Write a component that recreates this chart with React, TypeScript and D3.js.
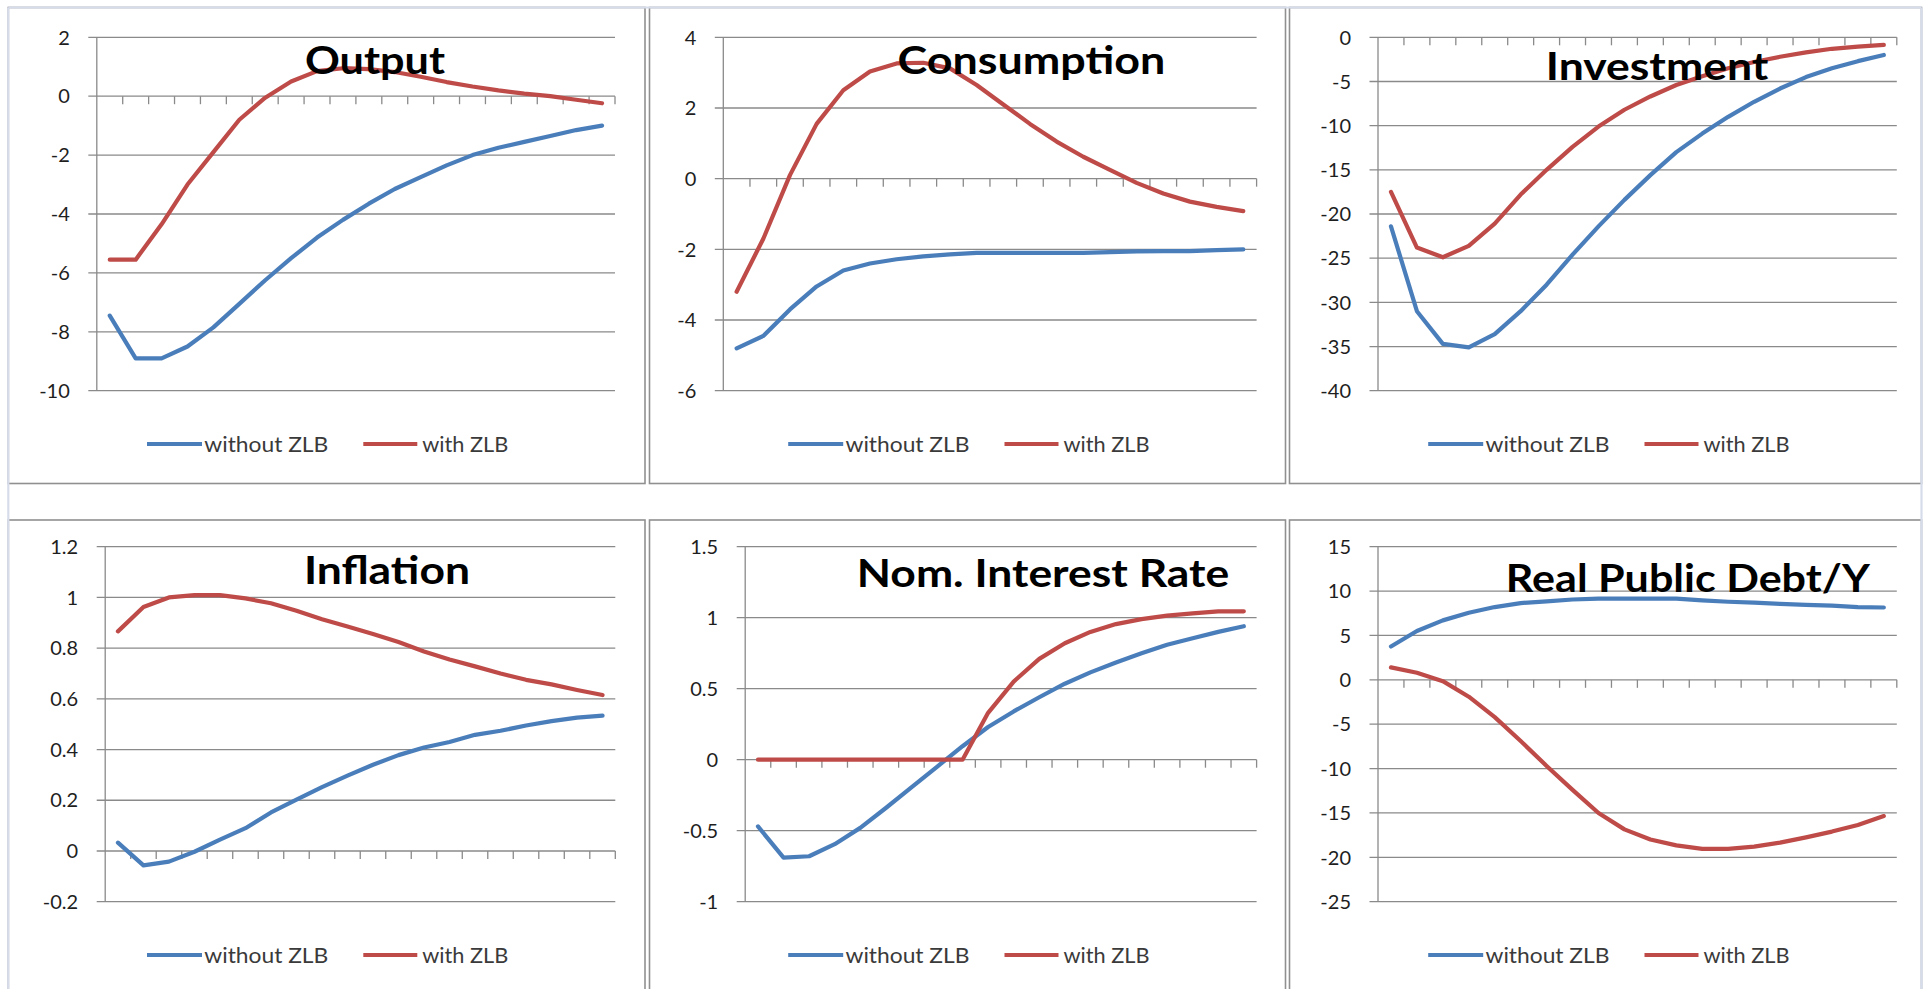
import React from 'react';
import * as d3 from 'd3';

// horizon (quarters) shared by every panel
const periods = [1, 2, 3, 4, 5, 6, 7, 8, 9, 10, 11, 12, 13, 14, 15, 16, 17, 18, 19, 20];

const seriesNames = ['without ZLB', 'with ZLB'];
const titles = ['Output', 'Consumption', 'Investment', 'Inflation', 'Nom. Interest Rate', 'Real Public Debt/Y'];

// Output
const outputNoZlb = [-7.45, -8.9, -8.9, -8.5, -7.85, -7.05, -6.25, -5.5, -4.8, -4.2, -3.65, -3.15, -2.75, -2.35, -2.0, -1.75, -1.55, -1.35, -1.15, -1.0];
const outputZlb = [-5.55, -5.55, -4.35, -3.0, -1.9, -0.8, -0.05, 0.5, 0.85, 0.95, 0.92, 0.82, 0.66, 0.48, 0.33, 0.2, 0.09, 0.0, -0.12, -0.24];
const outputTicks = [2, 0, -2, -4, -6, -8, -10];

// Consumption
const consNoZlb = [-4.8, -4.45, -3.7, -3.05, -2.6, -2.4, -2.28, -2.2, -2.14, -2.1, -2.1, -2.1, -2.1, -2.1, -2.08, -2.06, -2.05, -2.05, -2.02, -2.0];
const consZlb = [-3.2, -1.7, 0.1, 1.55, 2.5, 3.03, 3.26, 3.28, 3.12, 2.65, 2.1, 1.55, 1.05, 0.62, 0.25, -0.12, -0.42, -0.65, -0.8, -0.92];
const consTicks = [4, 2, 0, -2, -4, -6];

// Investment
const invNoZlb = [-21.4, -31.0, -34.7, -35.1, -33.6, -31.0, -28.0, -24.6, -21.4, -18.4, -15.6, -13.0, -10.9, -9.0, -7.3, -5.8, -4.5, -3.5, -2.7, -2.0];
const invZlb = [-17.5, -23.8, -24.9, -23.6, -21.1, -17.8, -15.0, -12.4, -10.1, -8.2, -6.7, -5.4, -4.4, -3.5, -2.8, -2.2, -1.7, -1.3, -1.05, -0.85];
const invTicks = [0, -5, -10, -15, -20, -25, -30, -35, -40];

// Inflation
const inflNoZlb = [0.033, -0.057, -0.042, -0.003, 0.045, 0.09, 0.152, 0.203, 0.252, 0.297, 0.34, 0.378, 0.408, 0.43, 0.458, 0.474, 0.495, 0.512, 0.526, 0.534];
const inflZlb = [0.866, 0.962, 1.0, 1.009, 1.009, 0.996, 0.977, 0.947, 0.914, 0.885, 0.856, 0.824, 0.787, 0.755, 0.728, 0.7, 0.675, 0.657, 0.635, 0.615];
const inflTicks = [1.2, 1, 0.8, 0.6, 0.4, 0.2, 0, -0.2];

// Nominal interest rate
const rateNoZlb = [-0.47, -0.69, -0.68, -0.595, -0.48, -0.34, -0.195, -0.05, 0.095, 0.23, 0.34, 0.44, 0.535, 0.615, 0.685, 0.75, 0.81, 0.855, 0.9, 0.94];
const rateZlb = [0, 0, 0, 0, 0, 0, 0, 0, 0, 0.33, 0.55, 0.71, 0.82, 0.9, 0.955, 0.99, 1.015, 1.03, 1.045, 1.045];
const rateTicks = [1.5, 1, 0.5, 0, -0.5, -1];

// Real public debt / Y
const debtNoZlb = [3.75, 5.5, 6.7, 7.55, 8.2, 8.65, 8.85, 9.05, 9.15, 9.15, 9.15, 9.15, 8.95, 8.8, 8.7, 8.55, 8.45, 8.35, 8.2, 8.15];
const debtZlb = [1.4, 0.8, -0.15, -1.9, -4.2, -6.9, -9.7, -12.4, -15.0, -16.85, -18.0, -18.65, -19.05, -19.05, -18.8, -18.35, -17.75, -17.1, -16.35, -15.35];
const debtTicks = [15, 10, 5, 0, -5, -10, -15, -20, -25];

// ---- layout ----
const W = 1926;
const H = 989;
const colLeft = [8.3, 649.5, 1289.5];
const colRight = [645, 1285.5, 1921.5];
const rowTop = [7.5, 520];
const rowBottom = [483.5, 1010];
const plotTop = [37.3, 546.7];
const plotBottom = [390.7, 901.7];
const legendY = [444, 955];

const BLUE = '#4a7ebb';
const RED = '#be4b48';
const GRID = '#8a8a8a';
const BORDER = '#909090';
const FRAME = '#d6dcea';
const FONT = 'Lato, "Open Sans", sans-serif';

interface PanelSpec {
  title: string;
  noZlb: number[];
  zlb: number[];
  ticks: number[];
  col: number;
  row: number;
  axisX: number;
  rightX: number;
  titleX: number;
  titleY: number;
  titleW: number;
}

const panels: PanelSpec[] = [
  { title: titles[0], noZlb: outputNoZlb, zlb: outputZlb, ticks: outputTicks, col: 0, row: 0, axisX: 96.8, rightX: 615, titleX: 305, titleY: 73.5, titleW: 140 },
  { title: titles[1], noZlb: consNoZlb, zlb: consZlb, ticks: consTicks, col: 1, row: 0, axisX: 723.3, rightX: 1256.6, titleX: 897.6, titleY: 74, titleW: 267.7 },
  { title: titles[2], noZlb: invNoZlb, zlb: invZlb, ticks: invTicks, col: 2, row: 0, axisX: 1378, rightX: 1896.8, titleX: 1545.8, titleY: 80, titleW: 222.5 },
  { title: titles[3], noZlb: inflNoZlb, zlb: inflZlb, ticks: inflTicks, col: 0, row: 1, axisX: 105.2, rightX: 615.3, titleX: 303.9, titleY: 584, titleW: 166.2 },
  { title: titles[4], noZlb: rateNoZlb, zlb: rateZlb, ticks: rateTicks, col: 1, row: 1, axisX: 745.2, rightX: 1256.6, titleX: 856.8, titleY: 587.3, titleW: 372.4 },
  { title: titles[5], noZlb: debtNoZlb, zlb: debtZlb, ticks: debtTicks, col: 2, row: 1, axisX: 1378, rightX: 1896.8, titleX: 1505.8, titleY: 591.7, titleW: 364.2 },
];

const fmt = (v: number) => String(+v.toFixed(2));

const Panel: React.FC<{ p: PanelSpec }> = ({ p }) => {
  const x = d3.scaleBand<number>().domain(periods).range([p.axisX, p.rightX]).paddingInner(0).paddingOuter(0);
  const bw = x.bandwidth();
  const y = d3
    .scaleLinear()
    .domain([d3.min(p.ticks) as number, d3.max(p.ticks) as number])
    .range([plotBottom[p.row], plotTop[p.row]]);
  const line = d3
    .line<number>()
    .x((_, i) => (x(periods[i]) as number) + bw / 2)
    .y((d) => y(d));
  const y0 = y(0);
  const left = colLeft[p.col];
  const ly = legendY[p.row];

  return (
    <g>
      {/* gridlines + y-axis tick marks */}
      {p.ticks.map((t) => (
        <line key={'g' + t} x1={p.axisX - 8.5} x2={p.rightX} y1={y(t)} y2={y(t)} stroke={GRID} strokeWidth={1.3} />
      ))}
      <line x1={p.axisX} x2={p.axisX} y1={plotTop[p.row]} y2={plotBottom[p.row]} stroke={GRID} strokeWidth={1.3} />
      {/* category ticks on the zero line */}
      {periods.map((d) => {
        const tx = (x(d) as number) + bw;
        return <line key={'t' + d} x1={tx} x2={tx} y1={y0} y2={y0 + 8} stroke={GRID} strokeWidth={1.3} />;
      })}
      {p.ticks.map((t) => (
        <text
          key={'l' + t}
          x={p.axisX - 27}
          y={y(t)}
          dy="0.36em"
          textAnchor="end"
          fontFamily={FONT}
          fontSize={20}
          fill="#1e1e1e"
        >
          {fmt(t)}
        </text>
      ))}
      <path d={line(p.noZlb) || ''} fill="none" stroke={BLUE} strokeWidth={4.2} strokeLinejoin="round" strokeLinecap="round" />
      <path d={line(p.zlb) || ''} fill="none" stroke={RED} strokeWidth={4.2} strokeLinejoin="round" strokeLinecap="round" />
      <text
        x={p.titleX}
        y={p.titleY}
        fontFamily={FONT}
        fontWeight={700}
        fontSize={39}
        fill="#000"
        textLength={p.titleW}
        lengthAdjust="spacingAndGlyphs"
      >
        {p.title}
      </text>
      {/* legend */}
      <line x1={left + 138.7} x2={left + 193.7} y1={ly} y2={ly} stroke={BLUE} strokeWidth={4.2} />
      <text x={left + 196} y={ly} dy="0.36em" fontFamily={FONT} fontSize={21} fill="#3a3a3a" textLength={124} lengthAdjust="spacingAndGlyphs">
        {seriesNames[0]}
      </text>
      <line x1={left + 355} x2={left + 409} y1={ly} y2={ly} stroke={RED} strokeWidth={4.2} />
      <text x={left + 414} y={ly} dy="0.36em" fontFamily={FONT} fontSize={21} fill="#3a3a3a" textLength={86} lengthAdjust="spacingAndGlyphs">
        {seriesNames[1]}
      </text>
    </g>
  );
};

export default function App() {
  return (
    <svg
      width={W}
      height={H}
      viewBox={`0 0 ${W} ${H}`}
      style={{ position: 'absolute', left: 0, top: 0, background: '#fff' }}
    >
      <rect x={0} y={0} width={W} height={H} fill="#fff" />
      {panels.map((p, i) => (
        <rect
          key={'b' + i}
          x={colLeft[p.col]}
          y={rowTop[p.row]}
          width={colRight[p.col] - colLeft[p.col]}
          height={rowBottom[p.row] - rowTop[p.row]}
          fill="#fff"
          stroke={BORDER}
          strokeWidth={1.6}
        />
      ))}
      {panels.map((p, i) => (
        <Panel key={i} p={p} />
      ))}
      {/* light outer frame */}
      <line x1={colLeft[0]} x2={colRight[2]} y1={rowTop[0]} y2={rowTop[0]} stroke={FRAME} strokeWidth={2.2} />
      <line x1={colLeft[0]} x2={colLeft[0]} y1={rowTop[0]} y2={H} stroke={FRAME} strokeWidth={2.2} />
      <line x1={colRight[2]} x2={colRight[2]} y1={rowTop[0]} y2={H} stroke={FRAME} strokeWidth={2.2} />
    </svg>
  );
}
